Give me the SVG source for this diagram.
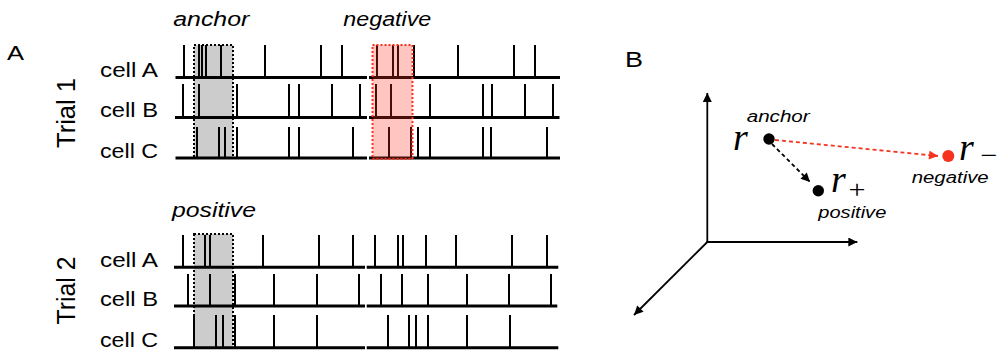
<svg xmlns="http://www.w3.org/2000/svg" width="998" height="352" viewBox="0 0 998 352">
<defs>
<style>
text{font-family:"Liberation Sans",Arial,sans-serif;fill:#000}
.lab{font-size:21px}
.it{font-style:italic;font-size:20px}
.its{font-style:italic;font-size:16px}
.trial{font-size:25px}
.math{font-family:"Liberation Serif","Times New Roman",serif;font-style:italic;font-size:38px}
.sym{font-family:"Liberation Serif","Times New Roman",serif;font-size:26px}
.base{stroke:#000;stroke-width:3;fill:none}
.spk{stroke:#000;stroke-width:2;fill:none}
.gbox{fill:#cccccc;stroke:#000;stroke-width:2;stroke-dasharray:2 2}
.rbox{fill:#ff3322;fill-opacity:0.28;stroke:#f5331f;stroke-width:2;stroke-dasharray:2 2}
.axis{stroke:#000;stroke-width:1.8;fill:none}
</style>
<marker id="ah" viewBox="0 0 10 10" refX="10" refY="5" markerWidth="10" markerHeight="9" markerUnits="userSpaceOnUse" orient="auto">
<path d="M0,0 L10,5 L0,10 z" fill="#000"/>
</marker>
<marker id="ahr" viewBox="0 0 10 10" refX="10" refY="5" markerWidth="11" markerHeight="9" markerUnits="userSpaceOnUse" orient="auto">
<path d="M0,0 L10,5 L0,10 z" fill="#f5331f"/>
</marker>
<marker id="ahb" viewBox="0 0 10 10" refX="10" refY="5" markerWidth="11" markerHeight="9" markerUnits="userSpaceOnUse" orient="auto">
<path d="M0,0 L10,5 L0,10 z" fill="#000"/>
</marker>
</defs>

<g id="panelA">
<text x="7" y="60" class="lab" textLength="17" lengthAdjust="spacingAndGlyphs">A</text>
<text x="173.3" y="26" class="it" textLength="76" lengthAdjust="spacingAndGlyphs">anchor</text>
<text x="343.3" y="26" class="it" textLength="88" lengthAdjust="spacingAndGlyphs">negative</text>
<text x="172" y="217" class="it" textLength="84" lengthAdjust="spacingAndGlyphs">positive</text>

<g id="trial1">
<text transform="translate(75,113) rotate(-90)" class="trial" text-anchor="middle" textLength="70" lengthAdjust="spacingAndGlyphs">Trial 1</text>
<text x="100" y="77" class="lab" textLength="58" lengthAdjust="spacingAndGlyphs">cell A</text>
<text x="100" y="117" class="lab" textLength="58" lengthAdjust="spacingAndGlyphs">cell B</text>
<text x="100" y="158" class="lab" textLength="58" lengthAdjust="spacingAndGlyphs">cell C</text>
<rect id="anchor-box" x="194" y="45" width="39" height="113" class="gbox"/>
<path class="base" d="M175.5 77.5H367M369 77.5H560M175 117.5H367M369 117.5H559.5M175.5 158H367M369 158H560"/>
<path class="spk" d="M184 45V77.5M199 45V77.5M202 45V77.5M206 45V77.5M221 45V77.5M265 45V77.5M321 45V77.5M342 45V77.5M377 45V77.5M393 45V77.5M398 45V77.5M414 45V77.5M458 45V77.5M514 45V77.5M535 45V77.5"/>
<path class="spk" d="M183 84V117.5M199 84V117.5M237 84V117.5M289 84V117.5M299 84V117.5M332 84V117.5M360 84V117.5M376 84V117.5M391 84V117.5M430 84V117.5M483 84V117.5M492 84V117.5M525 84V117.5M553 84V117.5"/>
<path class="spk" d="M197 127V158M219 127V158M225 127V158M237 127V158M289 127V158M299 127V158M353 127V158M389 127V158M411 127V158M418 127V158M430 127V158M483 127V158M491 127V158M547 127V158"/>
<rect x="194" y="45" width="39" height="113" fill="none" stroke="#000" stroke-width="2" stroke-dasharray="2 2"/>
<rect id="negative-box" x="372.5" y="45" width="40" height="114" class="rbox"/>
</g>

<g id="trial2">
<text transform="translate(75,290.5) rotate(-90)" class="trial" text-anchor="middle" textLength="68" lengthAdjust="spacingAndGlyphs">Trial 2</text>
<text x="100" y="267" class="lab" textLength="58" lengthAdjust="spacingAndGlyphs">cell A</text>
<text x="100" y="306" class="lab" textLength="58" lengthAdjust="spacingAndGlyphs">cell B</text>
<text x="100" y="347" class="lab" textLength="58" lengthAdjust="spacingAndGlyphs">cell C</text>
<rect id="positive-box" x="194" y="234" width="39" height="114" class="gbox"/>
<path class="base" d="M174 267.3H365M366.7 267.3H558.3M174 306H365M366.7 306H557.3M174 347.7H365M366.7 347.7H558.3"/>
<path class="spk" d="M183 235V267.3M205 235V267.3M210 235V267.3M263 235V267.3M319 235V267.3M353 235V267.3M375 235V267.3M398 235V267.3M403 235V267.3M426 235V267.3M456 235V267.3M512 235V267.3M547 235V267.3"/>
<path class="spk" d="M188 274V306M210 274V306M235 274V306M274 274V306M317 274V306M359 274V306M381 274V306M402 274V306M428 274V306M467 274V306M509 274V306M551 274V306"/>
<path class="spk" d="M194 315V347.7M216 315V347.7M223 315V347.7M235 315V347.7M274 315V347.7M317 315V347.7M388 315V347.7M409 315V347.7M416 315V347.7M428 315V347.7M467 315V347.7M510 315V347.7"/>
<rect x="194" y="234" width="39" height="114" fill="none" stroke="#000" stroke-width="2" stroke-dasharray="2 2"/>
</g>
</g>

<g id="panelB">
<text x="625" y="67" font-size="22" textLength="18" lengthAdjust="spacingAndGlyphs">B</text>
<g id="axes">
<line class="axis" x1="707.3" y1="242" x2="707.3" y2="93" marker-end="url(#ah)"/>
<line class="axis" x1="706.4" y1="242" x2="857.3" y2="242" marker-end="url(#ah)"/>
<line class="axis" x1="707.3" y1="242" x2="634" y2="315" marker-end="url(#ah)"/>
</g>
<g id="connectors">
<line x1="772" y1="144" x2="810" y2="182" stroke="#000" stroke-width="1.8" stroke-dasharray="4 3" marker-end="url(#ahb)"/>
<line x1="775" y1="140" x2="938" y2="156" stroke="#f5331f" stroke-width="1.8" stroke-dasharray="4 3" marker-end="url(#ahr)"/>
</g>
<g id="anchor-node">
<circle cx="769" cy="139" r="5.7" fill="#000"/>
<text x="733" y="150" class="math">r</text>
<text x="746.7" y="121.7" class="its" textLength="63" lengthAdjust="spacingAndGlyphs">anchor</text>
</g>
<g id="positive-node">
<circle cx="818.3" cy="190.7" r="5.7" fill="#000"/>
<text x="831" y="192" class="math">r</text>
<text x="848.5" y="198" class="sym" textLength="17" lengthAdjust="spacingAndGlyphs">+</text>
<text x="818.3" y="218.3" class="its" textLength="68" lengthAdjust="spacingAndGlyphs">positive</text>
</g>
<g id="negative-node">
<circle cx="948.3" cy="156" r="6" fill="#f5331f"/>
<text x="959" y="160" class="math">r</text>
<text x="980.5" y="164" class="sym" textLength="17" lengthAdjust="spacingAndGlyphs">−</text>
<text x="911.7" y="182.5" class="its" textLength="77" lengthAdjust="spacingAndGlyphs">negative</text>
</g>
</g>
</svg>
